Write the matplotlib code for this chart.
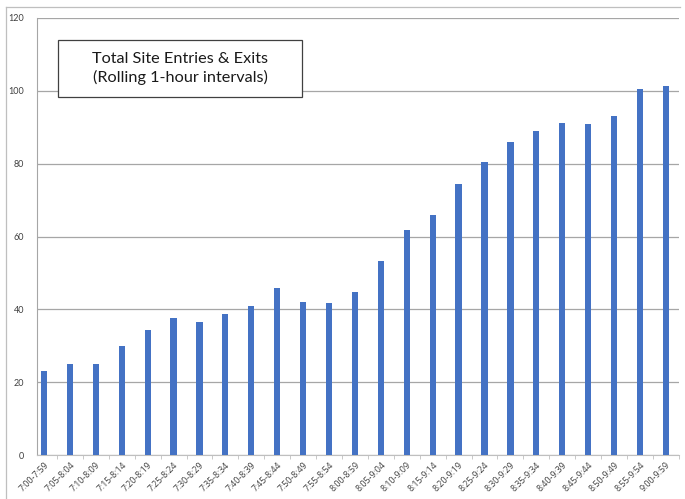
import matplotlib
matplotlib.use("Agg")
import matplotlib.pyplot as plt
from matplotlib.lines import Line2D
from matplotlib.patches import Rectangle
import numpy as np

# Rolling one-hour windows, 5-minute steps
intervals = [
    "7:00-7:59", "7:05-8:04", "7:10-8:09", "7:15-8:14", "7:20-8:19",
    "7:25-8:24", "7:30-8:29", "7:35-8:34", "7:40-8:39", "7:45-8:44",
    "7:50-8:49", "7:55-8:54", "8:00-8:59", "8:05-9:04", "8:10-9:09",
    "8:15-9:14", "8:20-9:19", "8:25-9:24", "8:30-9:29", "8:35-9:34",
    "8:40-9:39", "8:45-9:44", "8:50-9:49", "8:55-9:54", "9:00-9:59",
]
entries_exits = [
    23, 25, 25, 30, 34.3,
    37.5, 36.4, 38.7, 40.8, 45.8,
    41.9, 41.8, 44.9, 53.3, 61.8,
    66, 74.5, 80.5, 86, 89.1,
    91.1, 91, 93, 100.5, 101.4,
]
y_ticks = [0, 20, 40, 60, 80, 100, 120]

W, H = 685, 499
fig = plt.figure(figsize=(W / 100, H / 100), dpi=100)
ax = fig.add_axes([0.054, 0.088, 0.937, 0.876])

x = np.arange(len(intervals))
ax.bar(x, entries_exits, width=0.24, color="#4472C4", zorder=3)

ax.set_xlim(-0.27, len(intervals) - 1 + 0.27)
ax.set_ylim(0, 120)
ax.set_yticks(y_ticks)
ax.set_yticklabels([str(t) for t in y_ticks], fontsize=6.5, color="#404040",
                   family="Lato")
ax.tick_params(axis="y", length=0, pad=9)

ax.set_xticks(x)
ax.set_xticklabels(intervals, rotation=45, ha="right", rotation_mode="anchor",
                   fontsize=6.3, color="#404040", family="Open Sans")
ax.tick_params(axis="x", length=0, pad=4)
ax.set_xticks(np.arange(len(intervals)) + 0.5, minor=True)
ax.tick_params(axis="x", which="minor", length=3, color="#bfbfbf", direction="out")

ax.yaxis.grid(True, color="#a6a6a6", linewidth=0.9, zorder=0)
for side in ("top", "right"):
    ax.spines[side].set_visible(False)
ax.spines["left"].set_color("#a6a6a6")
ax.spines["bottom"].set_color("#bfbfbf")

# Chart-area border
fig.add_artist(Line2D([6 / W, 6 / W], [0, 1 - 7 / H],
                      transform=fig.transFigure, color="#bfbfbf", linewidth=0.9))
fig.add_artist(Line2D([6 / W, 680 / W], [1 - 7 / H, 1 - 7 / H],
                      transform=fig.transFigure, color="#bfbfbf", linewidth=0.9))

# Title box
fig.add_artist(Rectangle((58 / W, 1 - 97 / H), (302 - 58) / W, (97 - 40) / H,
                         transform=fig.transFigure, facecolor="white",
                         edgecolor="#404040", linewidth=0.9, zorder=5))
fig.text(180 / W, 1 - 68.5 / H,
         "Total Site Entries & Exits\n(Rolling 1-hour intervals)",
         ha="center", va="center", fontsize=11.7, family="Lato",
         color="#1a1a1a", linespacing=1.4, zorder=6)

fig.savefig("out.png", dpi=100)
